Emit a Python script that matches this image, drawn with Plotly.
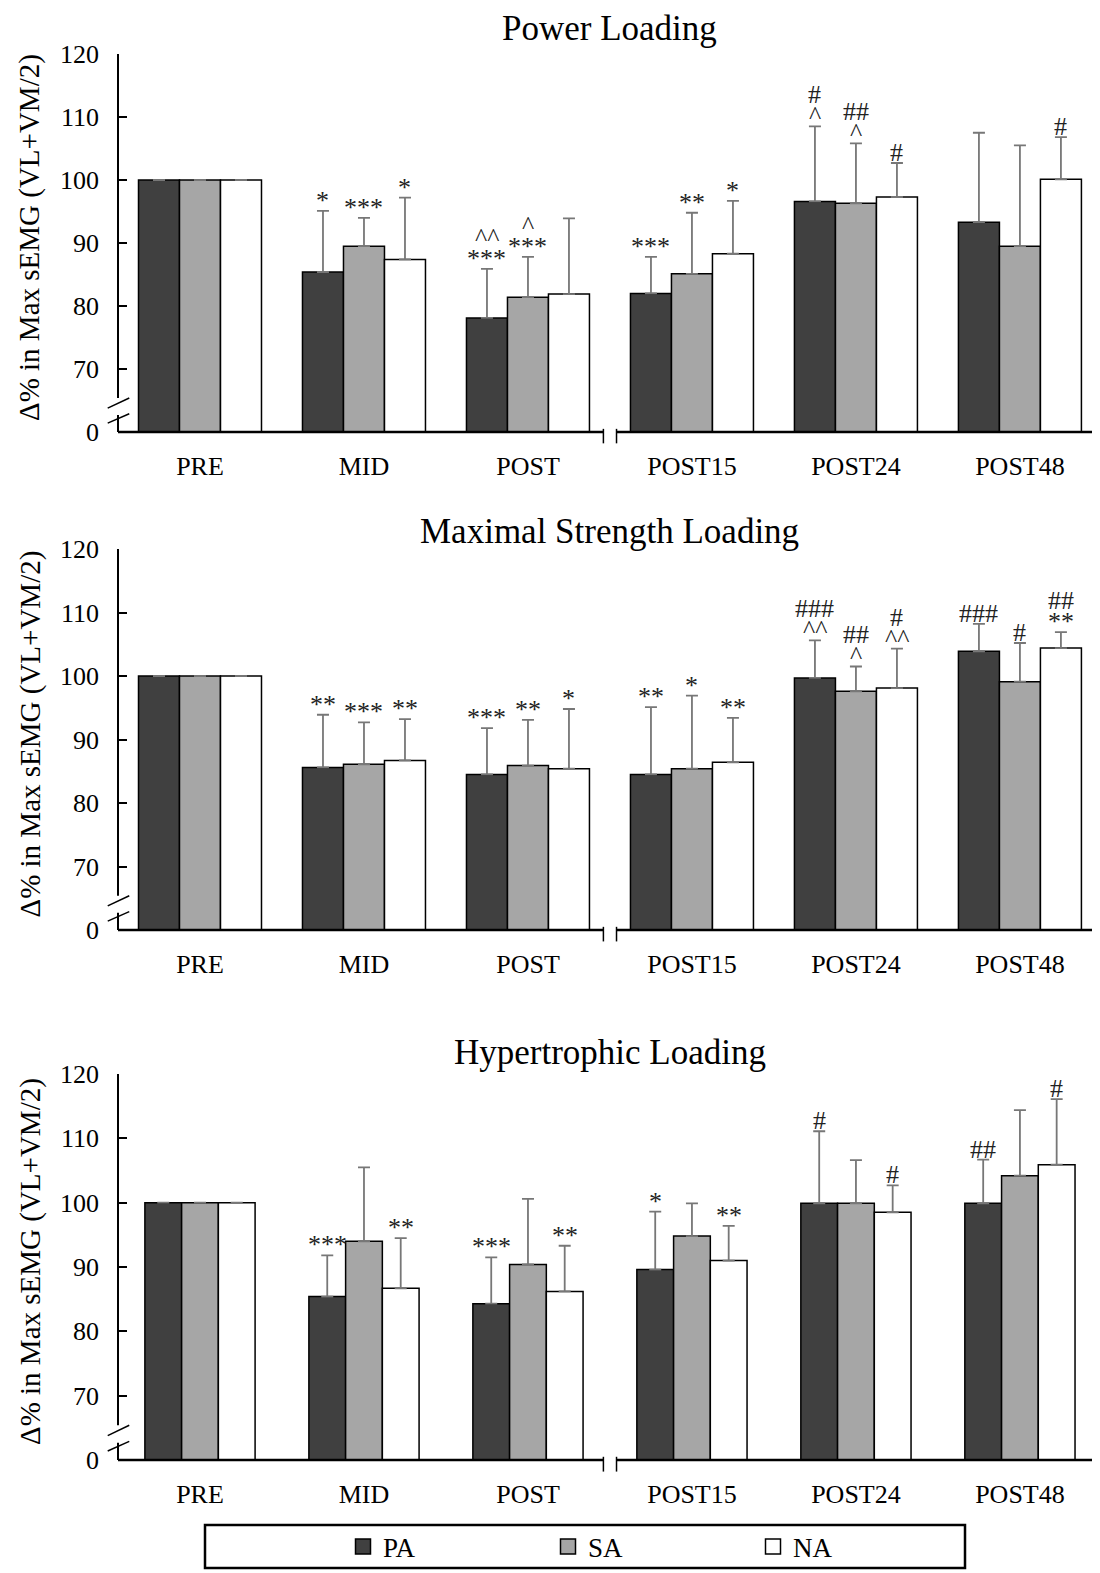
import plotly.graph_objects as go

# ---------------- data ----------------
categories = ["PRE", "MID", "POST", "POST15", "POST24", "POST48"]
series_names = ["PA", "SA", "NA"]
panel_titles = ["Power Loading", "Maximal Strength Loading", "Hypertrophic Loading"]
y_tick_values = [60, 70, 80, 90, 100, 110, 120]
y_tick_labels = ["0", "70", "80", "90", "100", "110", "120"]
y_title = "Δ% in Max sEMG (VL+VM/2)"

# Power loading
power_pa = [100, 85.4, 78.1, 82.0, 96.6, 93.3]
power_sa = [100, 89.5, 81.4, 85.1, 96.3, 89.5]
power_na = [100, 87.4, 81.9, 88.3, 97.3, 100.1]
power_pa_sd = [None, 9.7, 7.8, 5.8, 11.9, 14.2]
power_sa_sd = [None, 4.5, 6.4, 9.7, 9.5, 16.0]
power_na_sd = [None, 9.8, 12.0, 8.4, 5.4, 6.7]
power_pa_sig = ["", "*", "^^\n***", "***", "#\n^", ""]
power_sa_sig = ["", "***", "^\n***", "**", "##\n^", ""]
power_na_sig = ["", "*", "", "*", "#", "#"]

# Maximal strength loading
strength_pa = [100, 85.6, 84.5, 84.5, 99.7, 103.9]
strength_sa = [100, 86.1, 85.9, 85.4, 97.6, 99.1]
strength_na = [100, 86.7, 85.4, 86.4, 98.1, 104.4]
strength_pa_sd = [None, 8.3, 7.3, 10.6, 5.9, 4.3]
strength_sa_sd = [None, 6.6, 7.2, 11.5, 3.9, 6.1]
strength_na_sd = [None, 6.5, 9.4, 7.0, 6.2, 2.5]
strength_pa_sig = ["", "**", "***", "**", "###\n^^", "###"]
strength_sa_sig = ["", "***", "**", "*", "##\n^", "#"]
strength_na_sig = ["", "**", "*", "**", "#\n^^", "##\n**"]

# Hypertrophic loading
hyper_pa = [100, 85.4, 84.3, 89.6, 99.9, 99.9]
hyper_sa = [100, 94.0, 90.4, 94.8, 99.9, 104.2]
hyper_na = [100, 86.7, 86.2, 91.0, 98.5, 105.9]
hyper_pa_sd = [None, 6.4, 7.2, 9.0, 11.2, 6.8]
hyper_sa_sd = [None, 11.5, 10.2, 5.1, 6.7, 10.2]
hyper_na_sd = [None, 7.8, 7.1, 5.4, 4.2, 10.2]
hyper_pa_sig = ["", "***", "***", "*", "#", "##"]
hyper_sa_sig = ["", "", "", "", "", ""]
hyper_na_sig = ["", "**", "**", "**", "#", "#"]

panels = [
    ([power_pa, power_sa, power_na], [power_pa_sd, power_sa_sd, power_na_sd],
     [power_pa_sig, power_sa_sig, power_na_sig]),
    ([strength_pa, strength_sa, strength_na], [strength_pa_sd, strength_sa_sd, strength_na_sd],
     [strength_pa_sig, strength_sa_sig, strength_na_sig]),
    ([hyper_pa, hyper_sa, hyper_na], [hyper_pa_sd, hyper_sa_sd, hyper_na_sd],
     [hyper_pa_sig, hyper_sa_sig, hyper_na_sig]),
]

# ---------------- style ----------------
OFF = 8                      # page body margin of the html page
W, H = 1100 - OFF, 1573 - OFF
FONT = "Liberation Serif"
fill_colors = ["#404040", "#a6a6a6", "#ffffff"]
err_color = "#777777"
bar_widths = [0.25, 0.25, 0.224]
X_PX = (118, 1097)
panel_px = [(54, 432), (549, 930), (1074, 1460)]   # screen rows of 120 and axis
title_px = [8, 511, 1032]                          # screen row of each title's top
X_RANGE = [-0.5, 5.47]
Y_RANGE = [60, 120]


def px_x(px):
    return (px - OFF) / W


def px_y(py):
    return 1 - (py - OFF) / H


def ydom(v):
    return (v - Y_RANGE[0]) / (Y_RANGE[1] - Y_RANGE[0])


def xdom(c):
    return (c - X_RANGE[0]) / (X_RANGE[1] - X_RANGE[0])


fig = go.Figure()
annotations = []
shapes = []
layout_axes = {}

for p, (means, sds, sigs) in enumerate(panels):
    xa = "x" if p == 0 else f"x{p+1}"
    ya = "y" if p == 0 else f"y{p+1}"
    w = bar_widths[p]
    for s in range(3):
        off = -1.5 * w + s * w
        fig.add_trace(go.Bar(
            x=categories, y=means[s], name=series_names[s],
            xaxis=xa, yaxis=ya, width=w, offset=off,
            marker=dict(color=fill_colors[s], line=dict(color="black", width=1.5)),
            error_y=dict(type="data", array=sds[s], arrayminus=[0] * len(sds[s]),
                         symmetric=False, color=err_color, thickness=1.8, width=6),
            showlegend=False,
        ))
        # significance markers
        for c in range(len(categories)):
            txt = sigs[s][c]
            if not txt:
                continue
            top = means[s][c] + (sds[s][c] or 0)
            lines = txt.split("\n")[::-1]
            for i, line in enumerate(lines):
                annotations.append(dict(
                    x=c + off + w / 2, y=top, xref=xa, yref=ya,
                    text=line, showarrow=False, yanchor="bottom", xanchor="center",
                    yshift=-6 + i * 21,
                    font=dict(family=FONT, size=26, color="#222222")))

    top_px, bot_px = panel_px[p]
    xkey = "xaxis" if p == 0 else f"xaxis{p+1}"
    ykey = "yaxis" if p == 0 else f"yaxis{p+1}"
    layout_axes[xkey] = dict(
        domain=[px_x(X_PX[0]), px_x(X_PX[1])], anchor=ya, range=X_RANGE, type="category",
        showline=False, showgrid=False, zeroline=False, ticks="",
        tickfont=dict(family=FONT, size=26, color="black"), ticklabelstandoff=16)
    layout_axes[ykey] = dict(
        domain=[px_y(bot_px), px_y(top_px)], anchor=xa, range=Y_RANGE, showline=False,
        showgrid=False, zeroline=False, tickvals=y_tick_values, ticktext=y_tick_labels,
        ticks="inside", ticklen=9, tickwidth=2, tickcolor="black",
        tickfont=dict(family=FONT, size=26, color="black"), ticklabelstandoff=18)

    xd = xa + " domain"
    yd = ya + " domain"
    line = dict(color="black", width=2)
    # y axis line with break
    shapes.append(dict(type="line", xref=xd, yref=yd, x0=0, x1=0, y0=ydom(120), y1=ydom(65.4), line=line))
    shapes.append(dict(type="line", xref=xd, yref=yd, x0=0, x1=0, y0=ydom(62.7), y1=ydom(60), line=line))
    for (a, b) in [(63.8, 65.4), (61.4, 62.9)]:
        shapes.append(dict(type="line", xref=xd, yref=yd, x0=-0.0105, x1=0.0115,
                           y0=ydom(a), y1=ydom(b), line=dict(color="black", width=1.5)))
    # x axis line with break between POST and POST15
    xl = dict(color="black", width=2.5)
    shapes.append(dict(type="line", xref=xd, yref=yd, x0=0, x1=xdom(2.46), y0=0, y1=0, line=xl))
    shapes.append(dict(type="line", xref=xd, yref=yd, x0=xdom(2.54), x1=1, y0=0, y1=0, line=xl))
    for xb in (2.46, 2.54):
        shapes.append(dict(type="line", xref=xd, yref=yd, x0=xdom(xb), x1=xdom(xb),
                           y0=ydom(60.5), y1=ydom(58.2), line=dict(color="black", width=1.5)))

    # panel title
    annotations.append(dict(x=xdom(2.5), y=px_y(title_px[p]), xref=xd, yref="paper",
                            text=panel_titles[p], showarrow=False, xanchor="center",
                            yanchor="top", borderpad=0,
                            font=dict(family=FONT, size=35, color="black")))
    # y axis title
    annotations.append(dict(x=px_x(30), y=0.5, xref="paper", yref=yd, text=y_title,
                            textangle=-90, showarrow=False, xanchor="center", yanchor="middle",
                            yshift=5, font=dict(family=FONT, size=29, color="black")))

# legend entries (legend-only markers)
for s in range(3):
    fig.add_trace(go.Scatter(
        x=[None], y=[None], mode="markers", name=series_names[s],
        marker=dict(symbol="square", size=15, color=fill_colors[s],
                    line=dict(color="black", width=1.5)),
        showlegend=True))

# legend box
shapes.append(dict(type="rect", xref="paper", yref="paper",
                   x0=px_x(205), x1=px_x(965), y0=px_y(1568), y1=px_y(1525),
                   line=dict(color="black", width=2.5), fillcolor="rgba(0,0,0,0)"))

fig.update_layout(
    width=W, height=H,
    margin=dict(l=0, r=0, t=0, b=0, autoexpand=False),
    paper_bgcolor="white", plot_bgcolor="white",
    barmode="overlay",
    showlegend=True,
    legend=dict(orientation="h", x=px_x(343), xanchor="left", y=px_y(1547), yanchor="middle",
                entrywidth=160, entrywidthmode="pixels", itemwidth=30,
                font=dict(family=FONT, size=27, color="black"), bgcolor="rgba(0,0,0,0)",
                tracegroupgap=0),
    annotations=annotations,
    shapes=shapes,
    **layout_axes,
)

fig.write_html("out.html")
